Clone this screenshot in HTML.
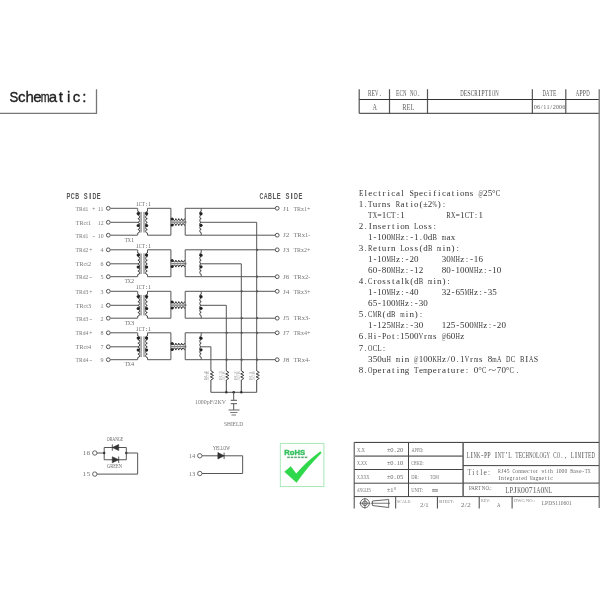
<!DOCTYPE html><html><head><meta charset="utf-8"><style>html,body{margin:0;padding:0;background:#fff;}svg{display:block;will-change:transform;-webkit-font-smoothing:antialiased;}</style></head><body>
<svg width="600" height="600" viewBox="0 0 600 600">
<rect width="600" height="600" fill="#fff"/>
<text x="21.73 29.55 37.37 53.01 60.83 68.65 76.47 84.29" y="101.90" font-family="Liberation Sans" font-size="15" font-weight="normal" fill="#222" text-anchor="middle" stroke="#222" stroke-width="0.35">cheatic:</text>
<text x="9.51" y="101.90" font-family="Liberation Sans" font-size="15" font-weight="normal" fill="#222" textLength="8.80" lengthAdjust="spacingAndGlyphs" stroke="#222" stroke-width="0.35">S</text>
<text x="40.79" y="101.90" font-family="Liberation Sans" font-size="15" font-weight="normal" fill="#222" textLength="8.80" lengthAdjust="spacingAndGlyphs" stroke="#222" stroke-width="0.35">m</text>
<path d="M0,113.3 H96.5 V89.3" stroke="#777" stroke-width="1.3" fill="none"/>
<line x1="359.2" y1="89.2" x2="359.2" y2="113.3" stroke="#555" stroke-width="1.2"/>
<line x1="389.5" y1="89.2" x2="389.5" y2="113.3" stroke="#555" stroke-width="1.2"/>
<line x1="427.5" y1="89.2" x2="427.5" y2="113.3" stroke="#555" stroke-width="1.2"/>
<line x1="532.3" y1="89.2" x2="532.3" y2="113.3" stroke="#333" stroke-width="1"/>
<line x1="565.8" y1="89.2" x2="565.8" y2="113.3" stroke="#555" stroke-width="1.2"/>
<line x1="359.2" y1="99.5" x2="599" y2="99.5" stroke="#333" stroke-width="1"/>
<line x1="359.2" y1="113.3" x2="599" y2="113.3" stroke="#333" stroke-width="1"/>
<line x1="599.3" y1="89.2" x2="599.3" y2="508" stroke="#888" stroke-width="1.6"/>
<text x="380.25" y="95.90" font-family="Liberation Serif" font-size="8.3" font-weight="normal" fill="#555" text-anchor="middle">.</text>
<text x="368.04" y="95.90" font-family="Liberation Serif" font-size="8.3" font-weight="normal" fill="#555" textLength="3.43" lengthAdjust="spacingAndGlyphs">R</text>
<text x="371.54" y="95.90" font-family="Liberation Serif" font-size="8.3" font-weight="normal" fill="#555" textLength="3.43" lengthAdjust="spacingAndGlyphs">E</text>
<text x="375.04" y="95.90" font-family="Liberation Serif" font-size="8.3" font-weight="normal" fill="#555" textLength="3.43" lengthAdjust="spacingAndGlyphs">V</text>
<text x="418.80" y="95.90" font-family="Liberation Serif" font-size="8.3" font-weight="normal" fill="#555" text-anchor="middle">.</text>
<text x="396.09" y="95.90" font-family="Liberation Serif" font-size="8.3" font-weight="normal" fill="#555" textLength="3.43" lengthAdjust="spacingAndGlyphs">E</text>
<text x="399.59" y="95.90" font-family="Liberation Serif" font-size="8.3" font-weight="normal" fill="#555" textLength="3.43" lengthAdjust="spacingAndGlyphs">C</text>
<text x="403.09" y="95.90" font-family="Liberation Serif" font-size="8.3" font-weight="normal" fill="#555" textLength="3.43" lengthAdjust="spacingAndGlyphs">N</text>
<text x="410.09" y="95.90" font-family="Liberation Serif" font-size="8.3" font-weight="normal" fill="#555" textLength="3.43" lengthAdjust="spacingAndGlyphs">N</text>
<text x="413.59" y="95.90" font-family="Liberation Serif" font-size="8.3" font-weight="normal" fill="#555" textLength="3.43" lengthAdjust="spacingAndGlyphs">O</text>
<text x="479.50 490.00" y="95.90" font-family="Liberation Serif" font-size="8.3" font-weight="normal" fill="#555" text-anchor="middle">II</text>
<text x="460.29" y="95.90" font-family="Liberation Serif" font-size="8.3" font-weight="normal" fill="#555" textLength="3.43" lengthAdjust="spacingAndGlyphs">D</text>
<text x="463.79" y="95.90" font-family="Liberation Serif" font-size="8.3" font-weight="normal" fill="#555" textLength="3.43" lengthAdjust="spacingAndGlyphs">E</text>
<text x="467.29" y="95.90" font-family="Liberation Serif" font-size="8.3" font-weight="normal" fill="#555" textLength="3.43" lengthAdjust="spacingAndGlyphs">S</text>
<text x="470.79" y="95.90" font-family="Liberation Serif" font-size="8.3" font-weight="normal" fill="#555" textLength="3.43" lengthAdjust="spacingAndGlyphs">C</text>
<text x="474.29" y="95.90" font-family="Liberation Serif" font-size="8.3" font-weight="normal" fill="#555" textLength="3.43" lengthAdjust="spacingAndGlyphs">R</text>
<text x="481.29" y="95.90" font-family="Liberation Serif" font-size="8.3" font-weight="normal" fill="#555" textLength="3.43" lengthAdjust="spacingAndGlyphs">P</text>
<text x="484.79" y="95.90" font-family="Liberation Serif" font-size="8.3" font-weight="normal" fill="#555" textLength="3.43" lengthAdjust="spacingAndGlyphs">T</text>
<text x="491.79" y="95.90" font-family="Liberation Serif" font-size="8.3" font-weight="normal" fill="#555" textLength="3.43" lengthAdjust="spacingAndGlyphs">O</text>
<text x="495.29" y="95.90" font-family="Liberation Serif" font-size="8.3" font-weight="normal" fill="#555" textLength="3.43" lengthAdjust="spacingAndGlyphs">N</text>
<text x="542.53" y="95.90" font-family="Liberation Serif" font-size="8.3" font-weight="normal" fill="#555" textLength="3.43" lengthAdjust="spacingAndGlyphs">D</text>
<text x="546.03" y="95.90" font-family="Liberation Serif" font-size="8.3" font-weight="normal" fill="#555" textLength="3.43" lengthAdjust="spacingAndGlyphs">A</text>
<text x="549.53" y="95.90" font-family="Liberation Serif" font-size="8.3" font-weight="normal" fill="#555" textLength="3.43" lengthAdjust="spacingAndGlyphs">T</text>
<text x="553.03" y="95.90" font-family="Liberation Serif" font-size="8.3" font-weight="normal" fill="#555" textLength="3.43" lengthAdjust="spacingAndGlyphs">E</text>
<text x="575.83" y="95.90" font-family="Liberation Serif" font-size="8.3" font-weight="normal" fill="#555" textLength="3.43" lengthAdjust="spacingAndGlyphs">A</text>
<text x="579.33" y="95.90" font-family="Liberation Serif" font-size="8.3" font-weight="normal" fill="#555" textLength="3.43" lengthAdjust="spacingAndGlyphs">P</text>
<text x="582.83" y="95.90" font-family="Liberation Serif" font-size="8.3" font-weight="normal" fill="#555" textLength="3.43" lengthAdjust="spacingAndGlyphs">P</text>
<text x="586.33" y="95.90" font-family="Liberation Serif" font-size="8.3" font-weight="normal" fill="#555" textLength="3.43" lengthAdjust="spacingAndGlyphs">D</text>
<text x="372.5" y="109.6" font-family="Liberation Serif" font-size="7.5" fill="#666" font-weight="normal" text-anchor="start" textLength="4.5" lengthAdjust="spacingAndGlyphs" >A</text>
<text x="402.3" y="109.6" font-family="Liberation Serif" font-size="7.5" fill="#666" font-weight="normal" text-anchor="start" textLength="12" lengthAdjust="spacingAndGlyphs" >REL</text>
<text x="541.67 551.12" y="109.20" font-family="Liberation Serif" font-size="7" font-weight="normal" fill="#666" text-anchor="middle">//</text>
<text x="533.83" y="109.20" font-family="Liberation Serif" font-size="7" font-weight="normal" fill="#666" textLength="3.09" lengthAdjust="spacingAndGlyphs">0</text>
<text x="536.98" y="109.20" font-family="Liberation Serif" font-size="7" font-weight="normal" fill="#666" textLength="3.09" lengthAdjust="spacingAndGlyphs">6</text>
<text x="543.28" y="109.20" font-family="Liberation Serif" font-size="7" font-weight="normal" fill="#666" textLength="3.09" lengthAdjust="spacingAndGlyphs">1</text>
<text x="546.43" y="109.20" font-family="Liberation Serif" font-size="7" font-weight="normal" fill="#666" textLength="3.09" lengthAdjust="spacingAndGlyphs">1</text>
<text x="552.73" y="109.20" font-family="Liberation Serif" font-size="7" font-weight="normal" fill="#666" textLength="3.09" lengthAdjust="spacingAndGlyphs">2</text>
<text x="555.88" y="109.20" font-family="Liberation Serif" font-size="7" font-weight="normal" fill="#666" textLength="3.09" lengthAdjust="spacingAndGlyphs">0</text>
<text x="559.03" y="109.20" font-family="Liberation Serif" font-size="7" font-weight="normal" fill="#666" textLength="3.09" lengthAdjust="spacingAndGlyphs">0</text>
<text x="562.18" y="109.20" font-family="Liberation Serif" font-size="7" font-weight="normal" fill="#666" textLength="3.09" lengthAdjust="spacingAndGlyphs">6</text>
<text x="90.11" y="199.20" font-family="Liberation Sans" font-size="8.4" font-weight="bold" fill="#555" text-anchor="middle">I</text>
<text x="66.52" y="199.20" font-family="Liberation Sans" font-size="8.4" font-weight="bold" fill="#555" textLength="3.90" lengthAdjust="spacingAndGlyphs">P</text>
<text x="70.84" y="199.20" font-family="Liberation Sans" font-size="8.4" font-weight="bold" fill="#555" textLength="3.90" lengthAdjust="spacingAndGlyphs">C</text>
<text x="75.17" y="199.20" font-family="Liberation Sans" font-size="8.4" font-weight="bold" fill="#555" textLength="3.90" lengthAdjust="spacingAndGlyphs">B</text>
<text x="83.84" y="199.20" font-family="Liberation Sans" font-size="8.4" font-weight="bold" fill="#555" textLength="3.90" lengthAdjust="spacingAndGlyphs">S</text>
<text x="92.50" y="199.20" font-family="Liberation Sans" font-size="8.4" font-weight="bold" fill="#555" textLength="3.90" lengthAdjust="spacingAndGlyphs">D</text>
<text x="96.83" y="199.20" font-family="Liberation Sans" font-size="8.4" font-weight="bold" fill="#555" textLength="3.90" lengthAdjust="spacingAndGlyphs">E</text>
<text x="291.68" y="199.10" font-family="Liberation Sans" font-size="8.4" font-weight="bold" fill="#555" text-anchor="middle">I</text>
<text x="259.42" y="199.10" font-family="Liberation Sans" font-size="8.4" font-weight="bold" fill="#555" textLength="3.90" lengthAdjust="spacingAndGlyphs">C</text>
<text x="263.75" y="199.10" font-family="Liberation Sans" font-size="8.4" font-weight="bold" fill="#555" textLength="3.90" lengthAdjust="spacingAndGlyphs">A</text>
<text x="268.08" y="199.10" font-family="Liberation Sans" font-size="8.4" font-weight="bold" fill="#555" textLength="3.90" lengthAdjust="spacingAndGlyphs">B</text>
<text x="272.41" y="199.10" font-family="Liberation Sans" font-size="8.4" font-weight="bold" fill="#555" textLength="3.90" lengthAdjust="spacingAndGlyphs">L</text>
<text x="276.74" y="199.10" font-family="Liberation Sans" font-size="8.4" font-weight="bold" fill="#555" textLength="3.90" lengthAdjust="spacingAndGlyphs">E</text>
<text x="285.40" y="199.10" font-family="Liberation Sans" font-size="8.4" font-weight="bold" fill="#555" textLength="3.90" lengthAdjust="spacingAndGlyphs">S</text>
<text x="294.06" y="199.10" font-family="Liberation Sans" font-size="8.4" font-weight="bold" fill="#555" textLength="3.90" lengthAdjust="spacingAndGlyphs">D</text>
<text x="298.38" y="199.10" font-family="Liberation Sans" font-size="8.4" font-weight="bold" fill="#555" textLength="3.90" lengthAdjust="spacingAndGlyphs">E</text>
<text x="75.6" y="210.60000000000002" font-family="Liberation Serif" font-size="6.8" fill="#777" font-weight="normal" text-anchor="start" textLength="12.8" lengthAdjust="spacingAndGlyphs" >TRd1</text>
<text x="92.2" y="210.60000000000002" font-family="Liberation Serif" font-size="6.8" fill="#777" font-weight="normal" text-anchor="start" textLength="3" lengthAdjust="spacingAndGlyphs" >+</text>
<text x="97.8" y="210.60000000000002" font-family="Liberation Serif" font-size="6.8" fill="#777" font-weight="normal" text-anchor="start" textLength="5.8" lengthAdjust="spacingAndGlyphs" >11</text>
<text x="75.6" y="224.60000000000002" font-family="Liberation Serif" font-size="6.8" fill="#777" font-weight="normal" text-anchor="start" textLength="15.5" lengthAdjust="spacingAndGlyphs" >TRct1</text>
<text x="97.8" y="224.60000000000002" font-family="Liberation Serif" font-size="6.8" fill="#777" font-weight="normal" text-anchor="start" textLength="5.8" lengthAdjust="spacingAndGlyphs" >12</text>
<text x="75.6" y="237.50000000000003" font-family="Liberation Serif" font-size="6.8" fill="#777" font-weight="normal" text-anchor="start" textLength="12.8" lengthAdjust="spacingAndGlyphs" >TRd1</text>
<text x="92.2" y="237.50000000000003" font-family="Liberation Serif" font-size="6.8" fill="#777" font-weight="normal" text-anchor="start" textLength="3" lengthAdjust="spacingAndGlyphs" >-</text>
<text x="97.8" y="237.50000000000003" font-family="Liberation Serif" font-size="6.8" fill="#777" font-weight="normal" text-anchor="start" textLength="5.8" lengthAdjust="spacingAndGlyphs" >10</text>
<line x1="110.3" y1="208.3" x2="137.5" y2="208.3" stroke="#555" stroke-width="1"/>
<line x1="110.3" y1="222.3" x2="138.5" y2="222.3" stroke="#555" stroke-width="1"/>
<line x1="110.3" y1="235.20000000000002" x2="137.5" y2="235.20000000000002" stroke="#555" stroke-width="1"/>
<path d="M137.7,208.3 V211.5" stroke="#555" stroke-width="1" fill="none"/>
<path d="M137.7,235.20000000000002 V233.00000000000003" stroke="#555" stroke-width="1" fill="none"/>
<path d="M137.9,211.50 a1.70,1.80 0 0 1 0,3.60 a1.70,1.80 0 0 1 0,3.60 a1.70,1.80 0 0 1 0,3.60" stroke="#444" stroke-width="1.0" fill="none"/>
<path d="M137.9,222.60 a1.70,1.73 0 0 1 0,3.47 a1.70,1.73 0 0 1 0,3.47 a1.70,1.73 0 0 1 0,3.47" stroke="#444" stroke-width="1.0" fill="none"/>
<circle cx="138.2" cy="213.5" r="1.6" fill="#222"/>
<circle cx="138.2" cy="225.5" r="1.6" fill="#222"/>
<rect x="140.1" y="211.9" width="1.9" height="20.600000000000005" fill="#aaa"/>
<rect x="143.2" y="211.9" width="1.7" height="20.600000000000005" fill="#aaa"/>
<path d="M147.5,208.3 V211.5" stroke="#555" stroke-width="1" fill="none"/>
<path d="M147.5,235.20000000000002 V233.00000000000003" stroke="#555" stroke-width="1" fill="none"/>
<path d="M147.3,211.50 a1.70,1.80 0 0 0 0,3.60 a1.70,1.80 0 0 0 0,3.60 a1.70,1.80 0 0 0 0,3.60" stroke="#444" stroke-width="1.0" fill="none"/>
<path d="M147.3,222.60 a1.70,1.73 0 0 0 0,3.47 a1.70,1.73 0 0 0 0,3.47 a1.70,1.73 0 0 0 0,3.47" stroke="#444" stroke-width="1.0" fill="none"/>
<circle cx="146.6" cy="213.5" r="1.6" fill="#222"/>
<circle cx="146.6" cy="225.5" r="1.6" fill="#222"/>
<text x="146.45" y="206.10" font-family="Liberation Serif" font-size="7" font-weight="normal" fill="#666" text-anchor="middle">:</text>
<text x="135.65" y="206.10" font-family="Liberation Serif" font-size="7" font-weight="normal" fill="#666" textLength="3.00" lengthAdjust="spacingAndGlyphs">1</text>
<text x="138.75" y="206.10" font-family="Liberation Serif" font-size="7" font-weight="normal" fill="#666" textLength="3.00" lengthAdjust="spacingAndGlyphs">C</text>
<text x="141.85" y="206.10" font-family="Liberation Serif" font-size="7" font-weight="normal" fill="#666" textLength="3.00" lengthAdjust="spacingAndGlyphs">T</text>
<text x="148.05" y="206.10" font-family="Liberation Serif" font-size="7" font-weight="normal" fill="#666" textLength="3.00" lengthAdjust="spacingAndGlyphs">1</text>
<text x="124.65" y="241.90" font-family="Liberation Serif" font-size="7" font-weight="normal" fill="#666" textLength="3.10" lengthAdjust="spacingAndGlyphs">T</text>
<text x="127.85" y="241.90" font-family="Liberation Serif" font-size="7" font-weight="normal" fill="#666" textLength="3.10" lengthAdjust="spacingAndGlyphs">X</text>
<text x="131.05" y="241.90" font-family="Liberation Serif" font-size="7" font-weight="normal" fill="#666" textLength="3.10" lengthAdjust="spacingAndGlyphs">1</text>
<line x1="147.5" y1="208.3" x2="170.9" y2="208.3" stroke="#555" stroke-width="1"/>
<line x1="147.5" y1="235.20000000000002" x2="170.9" y2="235.20000000000002" stroke="#555" stroke-width="1"/>
<line x1="170.9" y1="208.3" x2="170.9" y2="235.20000000000002" stroke="#555" stroke-width="1"/>
<line x1="171" y1="222.10000000000002" x2="186.5" y2="222.10000000000002" stroke="#888" stroke-width="1.5"/>
<path d="M173,218.60 a1.44,1.80 0 0 0 2.88,0 a1.44,1.80 0 0 0 2.88,0 a1.44,1.80 0 0 0 2.88,0 a1.44,1.80 0 0 0 2.88,0" stroke="#333" stroke-width="1.0" fill="none"/>
<path d="M173,225.60 a1.44,1.90 0 0 1 2.88,0 a1.44,1.90 0 0 1 2.88,0 a1.44,1.90 0 0 1 2.88,0 a1.44,1.90 0 0 1 2.88,0" stroke="#333" stroke-width="1.0" fill="none"/>
<circle cx="172.1" cy="218.9" r="1.5" fill="#222"/>
<circle cx="172.1" cy="224.9" r="1.5" fill="#222"/>
<line x1="185.2" y1="208.3" x2="185.2" y2="235.20000000000002" stroke="#555" stroke-width="1"/>
<line x1="185.2" y1="208.3" x2="275.2" y2="208.3" stroke="#555" stroke-width="1"/>
<line x1="185.2" y1="235.20000000000002" x2="275.2" y2="235.20000000000002" stroke="#555" stroke-width="1"/>
<path d="M201.2,208.3 V211.3" stroke="#555" stroke-width="1" fill="none"/>
<path d="M201.2,235.20000000000002 V232.70000000000002" stroke="#555" stroke-width="1" fill="none"/>
<path d="M201.2,211.30 a1.40,1.83 0 0 0 0,3.67 a1.40,1.83 0 0 0 0,3.67 a1.40,1.83 0 0 0 0,3.67" stroke="#444" stroke-width="1.0" fill="none"/>
<path d="M201.2,222.30 a1.40,1.73 0 0 0 0,3.47 a1.40,1.73 0 0 0 0,3.47 a1.40,1.73 0 0 0 0,3.47" stroke="#444" stroke-width="1.0" fill="none"/>
<circle cx="201.0" cy="213.70000000000002" r="1.6" fill="#222"/>
<circle cx="201.0" cy="225.3" r="1.6" fill="#222"/>
<path d="M201.2,222.3 H256.7 V371" stroke="#555" stroke-width="1" fill="none"/>
<circle cx="277.2" cy="208.3" r="1.9" stroke="#555" stroke-width="1.0" fill="#fff"/>
<text x="282.9" y="210.5" font-family="Liberation Serif" font-size="6" fill="#777" font-weight="normal" text-anchor="start" textLength="6.4" lengthAdjust="spacingAndGlyphs" >J1</text>
<text x="293.4" y="210.5" font-family="Liberation Serif" font-size="6" fill="#777" font-weight="normal" text-anchor="start" textLength="17" lengthAdjust="spacingAndGlyphs" >TRx1+</text>
<circle cx="277.2" cy="235.20000000000002" r="1.9" stroke="#555" stroke-width="1.0" fill="#fff"/>
<text x="282.9" y="237.4" font-family="Liberation Serif" font-size="6" fill="#777" font-weight="normal" text-anchor="start" textLength="6.4" lengthAdjust="spacingAndGlyphs" >J2</text>
<text x="293.4" y="237.4" font-family="Liberation Serif" font-size="6" fill="#777" font-weight="normal" text-anchor="start" textLength="17" lengthAdjust="spacingAndGlyphs" >TRx1-</text>
<circle cx="108.3" cy="208.3" r="1.9" stroke="#555" stroke-width="1.0" fill="#fff"/>
<circle cx="108.3" cy="222.3" r="1.9" stroke="#555" stroke-width="1.0" fill="#fff"/>
<circle cx="108.3" cy="235.20000000000002" r="1.9" stroke="#555" stroke-width="1.0" fill="#fff"/>
<text x="75.6" y="252.10000000000002" font-family="Liberation Serif" font-size="6.8" fill="#777" font-weight="normal" text-anchor="start" textLength="12.8" lengthAdjust="spacingAndGlyphs" >TRd2</text>
<text x="89.2" y="252.10000000000002" font-family="Liberation Serif" font-size="6.8" fill="#777" font-weight="normal" text-anchor="start" textLength="3" lengthAdjust="spacingAndGlyphs" >+</text>
<text x="100.6" y="252.10000000000002" font-family="Liberation Serif" font-size="6.8" fill="#777" font-weight="normal" text-anchor="start" textLength="3.0" lengthAdjust="spacingAndGlyphs" >4</text>
<text x="75.6" y="266.1" font-family="Liberation Serif" font-size="6.8" fill="#777" font-weight="normal" text-anchor="start" textLength="15.5" lengthAdjust="spacingAndGlyphs" >TRct2</text>
<text x="100.6" y="266.1" font-family="Liberation Serif" font-size="6.8" fill="#777" font-weight="normal" text-anchor="start" textLength="3.0" lengthAdjust="spacingAndGlyphs" >6</text>
<text x="75.6" y="279.0" font-family="Liberation Serif" font-size="6.8" fill="#777" font-weight="normal" text-anchor="start" textLength="12.8" lengthAdjust="spacingAndGlyphs" >TRd2</text>
<text x="89.2" y="279.0" font-family="Liberation Serif" font-size="6.8" fill="#777" font-weight="normal" text-anchor="start" textLength="3" lengthAdjust="spacingAndGlyphs" >-</text>
<text x="100.6" y="279.0" font-family="Liberation Serif" font-size="6.8" fill="#777" font-weight="normal" text-anchor="start" textLength="3.0" lengthAdjust="spacingAndGlyphs" >5</text>
<line x1="110.3" y1="249.8" x2="137.5" y2="249.8" stroke="#555" stroke-width="1"/>
<line x1="110.3" y1="263.8" x2="138.5" y2="263.8" stroke="#555" stroke-width="1"/>
<line x1="110.3" y1="276.7" x2="137.5" y2="276.7" stroke="#555" stroke-width="1"/>
<path d="M137.7,249.8 V253.0" stroke="#555" stroke-width="1" fill="none"/>
<path d="M137.7,276.7 V274.5" stroke="#555" stroke-width="1" fill="none"/>
<path d="M137.9,253.00 a1.70,1.80 0 0 1 0,3.60 a1.70,1.80 0 0 1 0,3.60 a1.70,1.80 0 0 1 0,3.60" stroke="#444" stroke-width="1.0" fill="none"/>
<path d="M137.9,264.10 a1.70,1.73 0 0 1 0,3.47 a1.70,1.73 0 0 1 0,3.47 a1.70,1.73 0 0 1 0,3.47" stroke="#444" stroke-width="1.0" fill="none"/>
<circle cx="138.2" cy="255.0" r="1.6" fill="#222"/>
<circle cx="138.2" cy="267.0" r="1.6" fill="#222"/>
<rect x="140.1" y="253.4" width="1.9" height="20.599999999999977" fill="#aaa"/>
<rect x="143.2" y="253.4" width="1.7" height="20.599999999999977" fill="#aaa"/>
<path d="M147.5,249.8 V253.0" stroke="#555" stroke-width="1" fill="none"/>
<path d="M147.5,276.7 V274.5" stroke="#555" stroke-width="1" fill="none"/>
<path d="M147.3,253.00 a1.70,1.80 0 0 0 0,3.60 a1.70,1.80 0 0 0 0,3.60 a1.70,1.80 0 0 0 0,3.60" stroke="#444" stroke-width="1.0" fill="none"/>
<path d="M147.3,264.10 a1.70,1.73 0 0 0 0,3.47 a1.70,1.73 0 0 0 0,3.47 a1.70,1.73 0 0 0 0,3.47" stroke="#444" stroke-width="1.0" fill="none"/>
<circle cx="146.6" cy="255.0" r="1.6" fill="#222"/>
<circle cx="146.6" cy="267.0" r="1.6" fill="#222"/>
<text x="146.45" y="247.60" font-family="Liberation Serif" font-size="7" font-weight="normal" fill="#666" text-anchor="middle">:</text>
<text x="135.65" y="247.60" font-family="Liberation Serif" font-size="7" font-weight="normal" fill="#666" textLength="3.00" lengthAdjust="spacingAndGlyphs">1</text>
<text x="138.75" y="247.60" font-family="Liberation Serif" font-size="7" font-weight="normal" fill="#666" textLength="3.00" lengthAdjust="spacingAndGlyphs">C</text>
<text x="141.85" y="247.60" font-family="Liberation Serif" font-size="7" font-weight="normal" fill="#666" textLength="3.00" lengthAdjust="spacingAndGlyphs">T</text>
<text x="148.05" y="247.60" font-family="Liberation Serif" font-size="7" font-weight="normal" fill="#666" textLength="3.00" lengthAdjust="spacingAndGlyphs">1</text>
<text x="124.65" y="283.40" font-family="Liberation Serif" font-size="7" font-weight="normal" fill="#666" textLength="3.10" lengthAdjust="spacingAndGlyphs">T</text>
<text x="127.85" y="283.40" font-family="Liberation Serif" font-size="7" font-weight="normal" fill="#666" textLength="3.10" lengthAdjust="spacingAndGlyphs">X</text>
<text x="131.05" y="283.40" font-family="Liberation Serif" font-size="7" font-weight="normal" fill="#666" textLength="3.10" lengthAdjust="spacingAndGlyphs">2</text>
<line x1="147.5" y1="249.8" x2="170.9" y2="249.8" stroke="#555" stroke-width="1"/>
<line x1="147.5" y1="276.7" x2="170.9" y2="276.7" stroke="#555" stroke-width="1"/>
<line x1="170.9" y1="249.8" x2="170.9" y2="276.7" stroke="#555" stroke-width="1"/>
<line x1="171" y1="263.6" x2="186.5" y2="263.6" stroke="#888" stroke-width="1.5"/>
<path d="M173,260.10 a1.44,1.80 0 0 0 2.88,0 a1.44,1.80 0 0 0 2.88,0 a1.44,1.80 0 0 0 2.88,0 a1.44,1.80 0 0 0 2.88,0" stroke="#333" stroke-width="1.0" fill="none"/>
<path d="M173,267.10 a1.44,1.90 0 0 1 2.88,0 a1.44,1.90 0 0 1 2.88,0 a1.44,1.90 0 0 1 2.88,0 a1.44,1.90 0 0 1 2.88,0" stroke="#333" stroke-width="1.0" fill="none"/>
<circle cx="172.1" cy="260.40000000000003" r="1.5" fill="#222"/>
<circle cx="172.1" cy="266.40000000000003" r="1.5" fill="#222"/>
<line x1="185.2" y1="249.8" x2="185.2" y2="276.7" stroke="#555" stroke-width="1"/>
<line x1="185.2" y1="249.8" x2="275.2" y2="249.8" stroke="#555" stroke-width="1"/>
<line x1="185.2" y1="276.7" x2="275.2" y2="276.7" stroke="#555" stroke-width="1"/>
<path d="M201.2,249.8 V252.8" stroke="#555" stroke-width="1" fill="none"/>
<path d="M201.2,276.7 V274.2" stroke="#555" stroke-width="1" fill="none"/>
<path d="M201.2,252.80 a1.40,1.83 0 0 0 0,3.67 a1.40,1.83 0 0 0 0,3.67 a1.40,1.83 0 0 0 0,3.67" stroke="#444" stroke-width="1.0" fill="none"/>
<path d="M201.2,263.80 a1.40,1.73 0 0 0 0,3.47 a1.40,1.73 0 0 0 0,3.47 a1.40,1.73 0 0 0 0,3.47" stroke="#444" stroke-width="1.0" fill="none"/>
<circle cx="201.0" cy="255.20000000000002" r="1.6" fill="#222"/>
<circle cx="201.0" cy="266.8" r="1.6" fill="#222"/>
<path d="M201.2,263.8 H241.3 V371" stroke="#555" stroke-width="1" fill="none"/>
<circle cx="277.2" cy="249.8" r="1.9" stroke="#555" stroke-width="1.0" fill="#fff"/>
<text x="282.9" y="252.0" font-family="Liberation Serif" font-size="6" fill="#777" font-weight="normal" text-anchor="start" textLength="6.4" lengthAdjust="spacingAndGlyphs" >J3</text>
<text x="293.4" y="252.0" font-family="Liberation Serif" font-size="6" fill="#777" font-weight="normal" text-anchor="start" textLength="17" lengthAdjust="spacingAndGlyphs" >TRx2+</text>
<circle cx="277.2" cy="276.7" r="1.9" stroke="#555" stroke-width="1.0" fill="#fff"/>
<text x="282.9" y="278.9" font-family="Liberation Serif" font-size="6" fill="#777" font-weight="normal" text-anchor="start" textLength="6.4" lengthAdjust="spacingAndGlyphs" >J6</text>
<text x="293.4" y="278.9" font-family="Liberation Serif" font-size="6" fill="#777" font-weight="normal" text-anchor="start" textLength="17" lengthAdjust="spacingAndGlyphs" >TRx2-</text>
<circle cx="108.3" cy="249.8" r="1.9" stroke="#555" stroke-width="1.0" fill="#fff"/>
<circle cx="108.3" cy="263.8" r="1.9" stroke="#555" stroke-width="1.0" fill="#fff"/>
<circle cx="108.3" cy="276.7" r="1.9" stroke="#555" stroke-width="1.0" fill="#fff"/>
<text x="75.6" y="293.6" font-family="Liberation Serif" font-size="6.8" fill="#777" font-weight="normal" text-anchor="start" textLength="12.8" lengthAdjust="spacingAndGlyphs" >TRd3</text>
<text x="89.2" y="293.6" font-family="Liberation Serif" font-size="6.8" fill="#777" font-weight="normal" text-anchor="start" textLength="3" lengthAdjust="spacingAndGlyphs" >+</text>
<text x="100.6" y="293.6" font-family="Liberation Serif" font-size="6.8" fill="#777" font-weight="normal" text-anchor="start" textLength="3.0" lengthAdjust="spacingAndGlyphs" >3</text>
<text x="75.6" y="307.6" font-family="Liberation Serif" font-size="6.8" fill="#777" font-weight="normal" text-anchor="start" textLength="15.5" lengthAdjust="spacingAndGlyphs" >TRct3</text>
<text x="100.6" y="307.6" font-family="Liberation Serif" font-size="6.8" fill="#777" font-weight="normal" text-anchor="start" textLength="3.0" lengthAdjust="spacingAndGlyphs" >1</text>
<text x="75.6" y="320.5" font-family="Liberation Serif" font-size="6.8" fill="#777" font-weight="normal" text-anchor="start" textLength="12.8" lengthAdjust="spacingAndGlyphs" >TRd3</text>
<text x="89.2" y="320.5" font-family="Liberation Serif" font-size="6.8" fill="#777" font-weight="normal" text-anchor="start" textLength="3" lengthAdjust="spacingAndGlyphs" >-</text>
<text x="100.6" y="320.5" font-family="Liberation Serif" font-size="6.8" fill="#777" font-weight="normal" text-anchor="start" textLength="3.0" lengthAdjust="spacingAndGlyphs" >2</text>
<line x1="110.3" y1="291.3" x2="137.5" y2="291.3" stroke="#555" stroke-width="1"/>
<line x1="110.3" y1="305.3" x2="138.5" y2="305.3" stroke="#555" stroke-width="1"/>
<line x1="110.3" y1="318.2" x2="137.5" y2="318.2" stroke="#555" stroke-width="1"/>
<path d="M137.7,291.3 V294.5" stroke="#555" stroke-width="1" fill="none"/>
<path d="M137.7,318.2 V316.0" stroke="#555" stroke-width="1" fill="none"/>
<path d="M137.9,294.50 a1.70,1.80 0 0 1 0,3.60 a1.70,1.80 0 0 1 0,3.60 a1.70,1.80 0 0 1 0,3.60" stroke="#444" stroke-width="1.0" fill="none"/>
<path d="M137.9,305.60 a1.70,1.73 0 0 1 0,3.47 a1.70,1.73 0 0 1 0,3.47 a1.70,1.73 0 0 1 0,3.47" stroke="#444" stroke-width="1.0" fill="none"/>
<circle cx="138.2" cy="296.5" r="1.6" fill="#222"/>
<circle cx="138.2" cy="308.5" r="1.6" fill="#222"/>
<rect x="140.1" y="294.90000000000003" width="1.9" height="20.599999999999977" fill="#aaa"/>
<rect x="143.2" y="294.90000000000003" width="1.7" height="20.599999999999977" fill="#aaa"/>
<path d="M147.5,291.3 V294.5" stroke="#555" stroke-width="1" fill="none"/>
<path d="M147.5,318.2 V316.0" stroke="#555" stroke-width="1" fill="none"/>
<path d="M147.3,294.50 a1.70,1.80 0 0 0 0,3.60 a1.70,1.80 0 0 0 0,3.60 a1.70,1.80 0 0 0 0,3.60" stroke="#444" stroke-width="1.0" fill="none"/>
<path d="M147.3,305.60 a1.70,1.73 0 0 0 0,3.47 a1.70,1.73 0 0 0 0,3.47 a1.70,1.73 0 0 0 0,3.47" stroke="#444" stroke-width="1.0" fill="none"/>
<circle cx="146.6" cy="296.5" r="1.6" fill="#222"/>
<circle cx="146.6" cy="308.5" r="1.6" fill="#222"/>
<text x="146.45" y="289.10" font-family="Liberation Serif" font-size="7" font-weight="normal" fill="#666" text-anchor="middle">:</text>
<text x="135.65" y="289.10" font-family="Liberation Serif" font-size="7" font-weight="normal" fill="#666" textLength="3.00" lengthAdjust="spacingAndGlyphs">1</text>
<text x="138.75" y="289.10" font-family="Liberation Serif" font-size="7" font-weight="normal" fill="#666" textLength="3.00" lengthAdjust="spacingAndGlyphs">C</text>
<text x="141.85" y="289.10" font-family="Liberation Serif" font-size="7" font-weight="normal" fill="#666" textLength="3.00" lengthAdjust="spacingAndGlyphs">T</text>
<text x="148.05" y="289.10" font-family="Liberation Serif" font-size="7" font-weight="normal" fill="#666" textLength="3.00" lengthAdjust="spacingAndGlyphs">1</text>
<text x="124.65" y="324.90" font-family="Liberation Serif" font-size="7" font-weight="normal" fill="#666" textLength="3.10" lengthAdjust="spacingAndGlyphs">T</text>
<text x="127.85" y="324.90" font-family="Liberation Serif" font-size="7" font-weight="normal" fill="#666" textLength="3.10" lengthAdjust="spacingAndGlyphs">X</text>
<text x="131.05" y="324.90" font-family="Liberation Serif" font-size="7" font-weight="normal" fill="#666" textLength="3.10" lengthAdjust="spacingAndGlyphs">3</text>
<line x1="147.5" y1="291.3" x2="170.9" y2="291.3" stroke="#555" stroke-width="1"/>
<line x1="147.5" y1="318.2" x2="170.9" y2="318.2" stroke="#555" stroke-width="1"/>
<line x1="170.9" y1="291.3" x2="170.9" y2="318.2" stroke="#555" stroke-width="1"/>
<line x1="171" y1="305.1" x2="186.5" y2="305.1" stroke="#888" stroke-width="1.5"/>
<path d="M173,301.60 a1.44,1.80 0 0 0 2.88,0 a1.44,1.80 0 0 0 2.88,0 a1.44,1.80 0 0 0 2.88,0 a1.44,1.80 0 0 0 2.88,0" stroke="#333" stroke-width="1.0" fill="none"/>
<path d="M173,308.60 a1.44,1.90 0 0 1 2.88,0 a1.44,1.90 0 0 1 2.88,0 a1.44,1.90 0 0 1 2.88,0 a1.44,1.90 0 0 1 2.88,0" stroke="#333" stroke-width="1.0" fill="none"/>
<circle cx="172.1" cy="301.90000000000003" r="1.5" fill="#222"/>
<circle cx="172.1" cy="307.90000000000003" r="1.5" fill="#222"/>
<line x1="185.2" y1="291.3" x2="185.2" y2="318.2" stroke="#555" stroke-width="1"/>
<line x1="185.2" y1="291.3" x2="275.2" y2="291.3" stroke="#555" stroke-width="1"/>
<line x1="185.2" y1="318.2" x2="275.2" y2="318.2" stroke="#555" stroke-width="1"/>
<path d="M201.2,291.3 V294.3" stroke="#555" stroke-width="1" fill="none"/>
<path d="M201.2,318.2 V315.7" stroke="#555" stroke-width="1" fill="none"/>
<path d="M201.2,294.30 a1.40,1.83 0 0 0 0,3.67 a1.40,1.83 0 0 0 0,3.67 a1.40,1.83 0 0 0 0,3.67" stroke="#444" stroke-width="1.0" fill="none"/>
<path d="M201.2,305.30 a1.40,1.73 0 0 0 0,3.47 a1.40,1.73 0 0 0 0,3.47 a1.40,1.73 0 0 0 0,3.47" stroke="#444" stroke-width="1.0" fill="none"/>
<circle cx="201.0" cy="296.7" r="1.6" fill="#222"/>
<circle cx="201.0" cy="308.3" r="1.6" fill="#222"/>
<path d="M201.2,305.3 H226.3 V371" stroke="#555" stroke-width="1" fill="none"/>
<circle cx="277.2" cy="291.3" r="1.9" stroke="#555" stroke-width="1.0" fill="#fff"/>
<text x="282.9" y="293.5" font-family="Liberation Serif" font-size="6" fill="#777" font-weight="normal" text-anchor="start" textLength="6.4" lengthAdjust="spacingAndGlyphs" >J4</text>
<text x="293.4" y="293.5" font-family="Liberation Serif" font-size="6" fill="#777" font-weight="normal" text-anchor="start" textLength="17" lengthAdjust="spacingAndGlyphs" >TRx3+</text>
<circle cx="277.2" cy="318.2" r="1.9" stroke="#555" stroke-width="1.0" fill="#fff"/>
<text x="282.9" y="320.4" font-family="Liberation Serif" font-size="6" fill="#777" font-weight="normal" text-anchor="start" textLength="6.4" lengthAdjust="spacingAndGlyphs" >J5</text>
<text x="293.4" y="320.4" font-family="Liberation Serif" font-size="6" fill="#777" font-weight="normal" text-anchor="start" textLength="17" lengthAdjust="spacingAndGlyphs" >TRx3-</text>
<circle cx="108.3" cy="291.3" r="1.9" stroke="#555" stroke-width="1.0" fill="#fff"/>
<circle cx="108.3" cy="305.3" r="1.9" stroke="#555" stroke-width="1.0" fill="#fff"/>
<circle cx="108.3" cy="318.2" r="1.9" stroke="#555" stroke-width="1.0" fill="#fff"/>
<text x="75.6" y="335.1" font-family="Liberation Serif" font-size="6.8" fill="#777" font-weight="normal" text-anchor="start" textLength="12.8" lengthAdjust="spacingAndGlyphs" >TRd4</text>
<text x="89.2" y="335.1" font-family="Liberation Serif" font-size="6.8" fill="#777" font-weight="normal" text-anchor="start" textLength="3" lengthAdjust="spacingAndGlyphs" >+</text>
<text x="100.6" y="335.1" font-family="Liberation Serif" font-size="6.8" fill="#777" font-weight="normal" text-anchor="start" textLength="3.0" lengthAdjust="spacingAndGlyphs" >8</text>
<text x="75.6" y="349.1" font-family="Liberation Serif" font-size="6.8" fill="#777" font-weight="normal" text-anchor="start" textLength="15.5" lengthAdjust="spacingAndGlyphs" >TRct4</text>
<text x="100.6" y="349.1" font-family="Liberation Serif" font-size="6.8" fill="#777" font-weight="normal" text-anchor="start" textLength="3.0" lengthAdjust="spacingAndGlyphs" >7</text>
<text x="75.6" y="362.0" font-family="Liberation Serif" font-size="6.8" fill="#777" font-weight="normal" text-anchor="start" textLength="12.8" lengthAdjust="spacingAndGlyphs" >TRd4</text>
<text x="89.2" y="362.0" font-family="Liberation Serif" font-size="6.8" fill="#777" font-weight="normal" text-anchor="start" textLength="3" lengthAdjust="spacingAndGlyphs" >-</text>
<text x="100.6" y="362.0" font-family="Liberation Serif" font-size="6.8" fill="#777" font-weight="normal" text-anchor="start" textLength="3.0" lengthAdjust="spacingAndGlyphs" >9</text>
<line x1="110.3" y1="332.8" x2="137.5" y2="332.8" stroke="#555" stroke-width="1"/>
<line x1="110.3" y1="346.8" x2="138.5" y2="346.8" stroke="#555" stroke-width="1"/>
<line x1="110.3" y1="359.7" x2="137.5" y2="359.7" stroke="#555" stroke-width="1"/>
<path d="M137.7,332.8 V336.0" stroke="#555" stroke-width="1" fill="none"/>
<path d="M137.7,359.7 V357.5" stroke="#555" stroke-width="1" fill="none"/>
<path d="M137.9,336.00 a1.70,1.80 0 0 1 0,3.60 a1.70,1.80 0 0 1 0,3.60 a1.70,1.80 0 0 1 0,3.60" stroke="#444" stroke-width="1.0" fill="none"/>
<path d="M137.9,347.10 a1.70,1.73 0 0 1 0,3.47 a1.70,1.73 0 0 1 0,3.47 a1.70,1.73 0 0 1 0,3.47" stroke="#444" stroke-width="1.0" fill="none"/>
<circle cx="138.2" cy="338.0" r="1.6" fill="#222"/>
<circle cx="138.2" cy="350.0" r="1.6" fill="#222"/>
<rect x="140.1" y="336.40000000000003" width="1.9" height="20.599999999999977" fill="#aaa"/>
<rect x="143.2" y="336.40000000000003" width="1.7" height="20.599999999999977" fill="#aaa"/>
<path d="M147.5,332.8 V336.0" stroke="#555" stroke-width="1" fill="none"/>
<path d="M147.5,359.7 V357.5" stroke="#555" stroke-width="1" fill="none"/>
<path d="M147.3,336.00 a1.70,1.80 0 0 0 0,3.60 a1.70,1.80 0 0 0 0,3.60 a1.70,1.80 0 0 0 0,3.60" stroke="#444" stroke-width="1.0" fill="none"/>
<path d="M147.3,347.10 a1.70,1.73 0 0 0 0,3.47 a1.70,1.73 0 0 0 0,3.47 a1.70,1.73 0 0 0 0,3.47" stroke="#444" stroke-width="1.0" fill="none"/>
<circle cx="146.6" cy="338.0" r="1.6" fill="#222"/>
<circle cx="146.6" cy="350.0" r="1.6" fill="#222"/>
<text x="146.45" y="330.60" font-family="Liberation Serif" font-size="7" font-weight="normal" fill="#666" text-anchor="middle">:</text>
<text x="135.65" y="330.60" font-family="Liberation Serif" font-size="7" font-weight="normal" fill="#666" textLength="3.00" lengthAdjust="spacingAndGlyphs">1</text>
<text x="138.75" y="330.60" font-family="Liberation Serif" font-size="7" font-weight="normal" fill="#666" textLength="3.00" lengthAdjust="spacingAndGlyphs">C</text>
<text x="141.85" y="330.60" font-family="Liberation Serif" font-size="7" font-weight="normal" fill="#666" textLength="3.00" lengthAdjust="spacingAndGlyphs">T</text>
<text x="148.05" y="330.60" font-family="Liberation Serif" font-size="7" font-weight="normal" fill="#666" textLength="3.00" lengthAdjust="spacingAndGlyphs">1</text>
<text x="124.65" y="366.40" font-family="Liberation Serif" font-size="7" font-weight="normal" fill="#666" textLength="3.10" lengthAdjust="spacingAndGlyphs">T</text>
<text x="127.85" y="366.40" font-family="Liberation Serif" font-size="7" font-weight="normal" fill="#666" textLength="3.10" lengthAdjust="spacingAndGlyphs">X</text>
<text x="131.05" y="366.40" font-family="Liberation Serif" font-size="7" font-weight="normal" fill="#666" textLength="3.10" lengthAdjust="spacingAndGlyphs">4</text>
<line x1="147.5" y1="332.8" x2="170.9" y2="332.8" stroke="#555" stroke-width="1"/>
<line x1="147.5" y1="359.7" x2="170.9" y2="359.7" stroke="#555" stroke-width="1"/>
<line x1="170.9" y1="332.8" x2="170.9" y2="359.7" stroke="#555" stroke-width="1"/>
<line x1="171" y1="346.6" x2="186.5" y2="346.6" stroke="#888" stroke-width="1.5"/>
<path d="M173,343.10 a1.44,1.80 0 0 0 2.88,0 a1.44,1.80 0 0 0 2.88,0 a1.44,1.80 0 0 0 2.88,0 a1.44,1.80 0 0 0 2.88,0" stroke="#333" stroke-width="1.0" fill="none"/>
<path d="M173,350.10 a1.44,1.90 0 0 1 2.88,0 a1.44,1.90 0 0 1 2.88,0 a1.44,1.90 0 0 1 2.88,0 a1.44,1.90 0 0 1 2.88,0" stroke="#333" stroke-width="1.0" fill="none"/>
<circle cx="172.1" cy="343.40000000000003" r="1.5" fill="#222"/>
<circle cx="172.1" cy="349.40000000000003" r="1.5" fill="#222"/>
<line x1="185.2" y1="332.8" x2="185.2" y2="359.7" stroke="#555" stroke-width="1"/>
<line x1="185.2" y1="332.8" x2="275.2" y2="332.8" stroke="#555" stroke-width="1"/>
<line x1="185.2" y1="359.7" x2="275.2" y2="359.7" stroke="#555" stroke-width="1"/>
<path d="M201.2,332.8 V335.8" stroke="#555" stroke-width="1" fill="none"/>
<path d="M201.2,359.7 V357.2" stroke="#555" stroke-width="1" fill="none"/>
<path d="M201.2,335.80 a1.40,1.83 0 0 0 0,3.67 a1.40,1.83 0 0 0 0,3.67 a1.40,1.83 0 0 0 0,3.67" stroke="#444" stroke-width="1.0" fill="none"/>
<path d="M201.2,346.80 a1.40,1.73 0 0 0 0,3.47 a1.40,1.73 0 0 0 0,3.47 a1.40,1.73 0 0 0 0,3.47" stroke="#444" stroke-width="1.0" fill="none"/>
<circle cx="201.0" cy="338.2" r="1.6" fill="#222"/>
<circle cx="201.0" cy="349.8" r="1.6" fill="#222"/>
<path d="M201.2,346.8 H210.9 V371" stroke="#555" stroke-width="1" fill="none"/>
<circle cx="277.2" cy="332.8" r="1.9" stroke="#555" stroke-width="1.0" fill="#fff"/>
<text x="282.9" y="335.0" font-family="Liberation Serif" font-size="6" fill="#777" font-weight="normal" text-anchor="start" textLength="6.4" lengthAdjust="spacingAndGlyphs" >J7</text>
<text x="293.4" y="335.0" font-family="Liberation Serif" font-size="6" fill="#777" font-weight="normal" text-anchor="start" textLength="17" lengthAdjust="spacingAndGlyphs" >TRx4+</text>
<circle cx="277.2" cy="359.7" r="1.9" stroke="#555" stroke-width="1.0" fill="#fff"/>
<text x="282.9" y="361.9" font-family="Liberation Serif" font-size="6" fill="#777" font-weight="normal" text-anchor="start" textLength="6.4" lengthAdjust="spacingAndGlyphs" >J8</text>
<text x="293.4" y="361.9" font-family="Liberation Serif" font-size="6" fill="#777" font-weight="normal" text-anchor="start" textLength="17" lengthAdjust="spacingAndGlyphs" >TRx4-</text>
<circle cx="108.3" cy="332.8" r="1.9" stroke="#555" stroke-width="1.0" fill="#fff"/>
<circle cx="108.3" cy="346.8" r="1.9" stroke="#555" stroke-width="1.0" fill="#fff"/>
<circle cx="108.3" cy="359.7" r="1.9" stroke="#555" stroke-width="1.0" fill="#fff"/>
<circle cx="257.09999999999997" cy="249.8" r="1.15" fill="#555"/>
<circle cx="257.09999999999997" cy="276.7" r="1.15" fill="#555"/>
<circle cx="257.09999999999997" cy="291.3" r="1.15" fill="#555"/>
<circle cx="257.09999999999997" cy="318.2" r="1.15" fill="#555"/>
<circle cx="257.09999999999997" cy="332.8" r="1.15" fill="#555"/>
<circle cx="257.09999999999997" cy="359.7" r="1.15" fill="#555"/>
<circle cx="241.70000000000002" cy="291.3" r="1.15" fill="#555"/>
<circle cx="241.70000000000002" cy="318.2" r="1.15" fill="#555"/>
<circle cx="241.70000000000002" cy="332.8" r="1.15" fill="#555"/>
<circle cx="241.70000000000002" cy="359.7" r="1.15" fill="#555"/>
<circle cx="226.70000000000002" cy="332.8" r="1.15" fill="#555"/>
<circle cx="226.70000000000002" cy="359.7" r="1.15" fill="#555"/>
<path d="M256.7,370.8 L259.3,372.4 L256.09999999999997,373.9 L259.3,375.4 L256.09999999999997,376.9 L259.3,378.4 L256.7,380 V392.3" stroke="#444" stroke-width="1.0" fill="none"/>
<text transform="translate(252.39999999999998,380.5) rotate(-90)" font-family="Liberation Serif" font-size="3.6" fill="#aaa" textLength="9.5" lengthAdjust="spacingAndGlyphs">R1</text>
<text transform="translate(255.2,380.5) rotate(-90)" font-family="Liberation Serif" font-size="3.6" fill="#aaa" textLength="9.5" lengthAdjust="spacingAndGlyphs">50R</text>
<path d="M241.3,370.8 L243.9,372.4 L240.70000000000002,373.9 L243.9,375.4 L240.70000000000002,376.9 L243.9,378.4 L241.3,380 V392.3" stroke="#444" stroke-width="1.0" fill="none"/>
<text transform="translate(237.0,380.5) rotate(-90)" font-family="Liberation Serif" font-size="3.6" fill="#aaa" textLength="9.5" lengthAdjust="spacingAndGlyphs">R2</text>
<text transform="translate(239.8,380.5) rotate(-90)" font-family="Liberation Serif" font-size="3.6" fill="#aaa" textLength="9.5" lengthAdjust="spacingAndGlyphs">50R</text>
<path d="M226.3,370.8 L228.9,372.4 L225.70000000000002,373.9 L228.9,375.4 L225.70000000000002,376.9 L228.9,378.4 L226.3,380 V392.3" stroke="#444" stroke-width="1.0" fill="none"/>
<text transform="translate(222.0,380.5) rotate(-90)" font-family="Liberation Serif" font-size="3.6" fill="#aaa" textLength="9.5" lengthAdjust="spacingAndGlyphs">R3</text>
<text transform="translate(224.8,380.5) rotate(-90)" font-family="Liberation Serif" font-size="3.6" fill="#aaa" textLength="9.5" lengthAdjust="spacingAndGlyphs">50R</text>
<path d="M210.9,370.8 L213.5,372.4 L210.3,373.9 L213.5,375.4 L210.3,376.9 L213.5,378.4 L210.9,380 V392.3" stroke="#444" stroke-width="1.0" fill="none"/>
<text transform="translate(206.6,380.5) rotate(-90)" font-family="Liberation Serif" font-size="3.6" fill="#aaa" textLength="9.5" lengthAdjust="spacingAndGlyphs">R4</text>
<text transform="translate(209.4,380.5) rotate(-90)" font-family="Liberation Serif" font-size="3.6" fill="#aaa" textLength="9.5" lengthAdjust="spacingAndGlyphs">50R</text>
<line x1="210.9" y1="392.3" x2="256.7" y2="392.3" stroke="#555" stroke-width="1"/>
<circle cx="226.3" cy="392.3" r="1.2" fill="#333"/>
<circle cx="241.3" cy="392.3" r="1.2" fill="#333"/>
<circle cx="233.7" cy="392.3" r="1.3" fill="#333"/>
<line x1="233.7" y1="392.3" x2="233.7" y2="400.3" stroke="#555" stroke-width="1"/>
<line x1="230.7" y1="400.3" x2="237" y2="400.3" stroke="#555" stroke-width="1"/>
<line x1="230.7" y1="403.7" x2="237" y2="403.7" stroke="#555" stroke-width="1"/>
<line x1="233.7" y1="403.7" x2="233.7" y2="410" stroke="#555" stroke-width="1"/>
<line x1="228.5" y1="410" x2="239.5" y2="410" stroke="#555" stroke-width="0.9"/>
<line x1="230.2" y1="412.5" x2="237.5" y2="412.5" stroke="#555" stroke-width="0.8"/>
<line x1="231.5" y1="415" x2="236" y2="415" stroke="#555" stroke-width="0.8"/>
<text x="195" y="404.4" font-family="Liberation Serif" font-size="6" fill="#777" font-weight="normal" text-anchor="start" textLength="31" lengthAdjust="spacingAndGlyphs" >1000pF/2KV</text>
<text x="224" y="425.7" font-family="Liberation Serif" font-size="6" fill="#777" font-weight="normal" text-anchor="start" textLength="19.3" lengthAdjust="spacingAndGlyphs" >SHIELD</text>
<text x="82.6" y="455.2" font-family="Liberation Serif" font-size="6.5" fill="#777" font-weight="normal" text-anchor="start" textLength="7.6" lengthAdjust="spacingAndGlyphs" >16</text>
<circle cx="94.8" cy="453" r="2.2" stroke="#555" stroke-width="0.9" fill="#fff"/>
<line x1="97" y1="453" x2="104.2" y2="453" stroke="#555" stroke-width="1"/>
<path d="M104.2,447.5 V459.75 M104.2,447.5 H126.3 V459.75 H104.2" stroke="#555" stroke-width="1" fill="none"/>
<path d="M112.3,447.5 l6.4,-3 v6 z" stroke="#333" stroke-width="0.6" fill="#333"/>
<line x1="112.3" y1="444.3" x2="112.3" y2="450.7" stroke="#333" stroke-width="0.8"/>
<path d="M118.7,459.75 l-6.4,-3 v6 z" stroke="#333" stroke-width="0.6" fill="#333"/>
<line x1="118.7" y1="456.5" x2="118.7" y2="463" stroke="#333" stroke-width="0.8"/>
<circle cx="104.2" cy="453" r="1.2" fill="#333"/>
<circle cx="126.3" cy="453" r="1.2" fill="#333"/>
<path d="M126.3,453 H137.65 V474.1 H97" stroke="#555" stroke-width="1" fill="none"/>
<circle cx="94.8" cy="474.1" r="2.2" stroke="#555" stroke-width="0.9" fill="#fff"/>
<text x="82.6" y="476.3" font-family="Liberation Serif" font-size="6.5" fill="#777" font-weight="normal" text-anchor="start" textLength="7.6" lengthAdjust="spacingAndGlyphs" >15</text>
<text x="106.8" y="441.3" font-family="Liberation Serif" font-size="5.5" fill="#666" font-weight="normal" text-anchor="start" textLength="16.5" lengthAdjust="spacingAndGlyphs" >ORANGE</text>
<text x="107" y="468.3" font-family="Liberation Serif" font-size="5.5" fill="#666" font-weight="normal" text-anchor="start" textLength="15" lengthAdjust="spacingAndGlyphs" >GREEN</text>
<text x="188.75" y="458" font-family="Liberation Serif" font-size="6.5" fill="#777" font-weight="normal" text-anchor="start" textLength="6.5" lengthAdjust="spacingAndGlyphs" >14</text>
<circle cx="199.8" cy="455.8" r="2.2" stroke="#555" stroke-width="0.9" fill="#fff"/>
<path d="M202,455.8 H242.65 V473.5 H202" stroke="#555" stroke-width="1" fill="none"/>
<circle cx="199.8" cy="473.5" r="2.2" stroke="#555" stroke-width="0.9" fill="#fff"/>
<text x="188.75" y="475.7" font-family="Liberation Serif" font-size="6.5" fill="#777" font-weight="normal" text-anchor="start" textLength="6.5" lengthAdjust="spacingAndGlyphs" >13</text>
<path d="M217.9,452.6 L224.1,455.8 L217.9,459 z" stroke="#333" stroke-width="0.6" fill="#333"/>
<line x1="224.1" y1="452.6" x2="224.1" y2="459" stroke="#333" stroke-width="0.8"/>
<text x="213" y="449.6" font-family="Liberation Serif" font-size="5.5" fill="#666" font-weight="normal" text-anchor="start" textLength="17" lengthAdjust="spacingAndGlyphs" >YELLOW</text>
<rect x="280.3" y="443.4" width="43.6" height="43.2" fill="none" stroke="#9fe6b0" stroke-width="0.9"/>
<text x="284.3" y="454.8" font-family="Liberation Sans" font-size="8" font-weight="bold" fill="#38c060" stroke="#38c060" stroke-width="0.45" textLength="20.8" lengthAdjust="spacingAndGlyphs">RoHS</text>
<rect x="287.2" y="456.6" width="2.6" height="1.5" fill="#5aa870"/>
<rect x="290.7" y="456.6" width="2.6" height="1.5" fill="#5aa870"/>
<rect x="294.2" y="456.6" width="2.6" height="1.5" fill="#5aa870"/>
<rect x="297.7" y="456.6" width="2.6" height="1.5" fill="#5aa870"/>
<rect x="301.2" y="456.6" width="2.6" height="1.5" fill="#5aa870"/>
<rect x="304.7" y="456.6" width="2.6" height="1.5" fill="#5aa870"/>
<path d="M284.5,471.8 L290.8,466.5 L296.2,473.8 Q306,462 320.4,451.6 L321.3,452.9 Q308,466 296.5,482.4 Z" stroke="#2ed84a" stroke-width="0.4" fill="#2ed84a"/>
<text x="365.70 370.30 374.90 379.50 384.10 388.70 393.30 397.90 402.50 416.30 420.90 425.50 430.10 434.70 439.30 443.90 448.50 453.10 457.70 462.30 466.90 471.50 485.30 489.90 493.80" y="195.70" font-family="Liberation Serif" font-size="9" fill="#333" text-anchor="middle">lectricalpecifications25°</text>
<text x="361.10 365.70 374.90 379.50 384.10 388.70 402.50 407.10 411.70 416.30 420.90 430.10 439.30 443.90" y="206.76" font-family="Liberation Serif" font-size="9" fill="#333" text-anchor="middle">1.urnsatio(2):</text>
<text x="384.10 397.90 402.50 462.30 476.10 480.70" y="217.82" font-family="Liberation Serif" font-size="9" fill="#333" text-anchor="middle">1:11:1</text>
<text x="361.10 365.70 370.30 374.90 379.50 384.10 388.70 393.30 397.90 402.50 407.10 420.90 425.50 430.10 434.70" y="228.88" font-family="Liberation Serif" font-size="9" fill="#333" text-anchor="middle">2.Insertionoss:</text>
<text x="370.30 374.90 379.50 384.10 388.70 402.50 407.10 411.70 416.30 420.90 425.50 430.10 448.50 453.10" y="239.94" font-family="Liberation Serif" font-size="9" fill="#333" text-anchor="middle">1-100z:-1.0dax</text>
<text x="361.10 365.70 374.90 379.50 384.10 388.70 393.30 407.10 411.70 416.30 420.90 425.50 443.90 448.50 453.10 457.70" y="251.00" font-family="Liberation Serif" font-size="9" fill="#333" text-anchor="middle">3.eturnoss(din):</text>
<text x="370.30 374.90 379.50 384.10 397.90 402.50 407.10 411.70 416.30 443.90 448.50 462.30 466.90 471.50 476.10 480.70" y="262.06" font-family="Liberation Serif" font-size="9" fill="#333" text-anchor="middle">1-10z:-2030z:-16</text>
<text x="370.30 374.90 379.50 384.10 388.70 402.50 407.10 411.70 416.30 420.90 443.90 448.50 453.10 457.70 462.30 466.90 480.70 485.30 489.90 494.50 499.10" y="273.12" font-family="Liberation Serif" font-size="9" fill="#333" text-anchor="middle">60-80z:-1280-100z:-10</text>
<text x="361.10 365.70 374.90 379.50 384.10 388.70 393.30 397.90 402.50 407.10 411.70 416.30 434.70 439.30 443.90 448.50" y="284.18" font-family="Liberation Serif" font-size="9" fill="#333" text-anchor="middle">4.rosstalk(din):</text>
<text x="370.30 374.90 379.50 384.10 397.90 402.50 407.10 411.70 416.30 443.90 448.50 453.10 457.70 462.30 476.10 480.70 485.30 489.90 494.50" y="295.24" font-family="Liberation Serif" font-size="9" fill="#333" text-anchor="middle">1-10z:-4032-65z:-35</text>
<text x="370.30 374.90 379.50 384.10 388.70 393.30 407.10 411.70 416.30 420.90 425.50" y="306.30" font-family="Liberation Serif" font-size="9" fill="#333" text-anchor="middle">65-100z:-30</text>
<text x="361.10 365.70 384.10 388.70 407.10 411.70 416.30 420.90" y="317.36" font-family="Liberation Serif" font-size="9" fill="#333" text-anchor="middle">5.(din):</text>
<text x="370.30 374.90 379.50 384.10 388.70 402.50 407.10 411.70 416.30 420.90 443.90 448.50 453.10 457.70 462.30 466.90 471.50 485.30 489.90 494.50 499.10 503.70" y="328.42" font-family="Liberation Serif" font-size="9" fill="#333" text-anchor="middle">1-125z:-30125-500z:-20</text>
<text x="361.10 365.70 374.90 379.50 388.70 393.30 397.90 402.50 407.10 411.70 416.30 425.50 434.70 448.50 453.10 462.30" y="339.48" font-family="Liberation Serif" font-size="9" fill="#333" text-anchor="middle">6.i-ot:1500rs60z</text>
<text x="361.10 365.70 384.10" y="350.54" font-family="Liberation Serif" font-size="9" fill="#333" text-anchor="middle">7.:</text>
<text x="370.30 374.90 379.50 384.10 402.50 407.10 420.90 425.50 430.10 443.90 448.50 453.10 457.70 462.30 471.50 480.70 489.90 526.70" y="361.60" font-family="Liberation Serif" font-size="9" fill="#333" text-anchor="middle">350uin100z/0.1rs8I</text>
<text x="361.10 365.70 374.90 379.50 384.10 388.70 393.30 397.90 402.50 407.10 420.90 430.10 434.70 439.30 443.90 448.50 453.10 457.70 462.30 466.90 476.10 480.00 499.10 503.70 507.60 517.50" y="372.66" font-family="Liberation Serif" font-size="9" fill="#333" text-anchor="middle">8.peratingeperature:0°70°.</text>
<text x="358.90" y="195.70" font-family="Liberation Serif" font-size="9" fill="#333" textLength="4.40" lengthAdjust="spacingAndGlyphs">E</text>
<text x="409.50" y="195.70" font-family="Liberation Serif" font-size="9" fill="#333" textLength="4.40" lengthAdjust="spacingAndGlyphs">S</text>
<text x="478.50" y="195.70" font-family="Liberation Serif" font-size="9" fill="#333" textLength="4.40" lengthAdjust="spacingAndGlyphs">@</text>
<text x="495.80" y="195.70" font-family="Liberation Serif" font-size="9" fill="#333" textLength="4.40" lengthAdjust="spacingAndGlyphs">C</text>
<text x="368.10" y="206.76" font-family="Liberation Serif" font-size="9" fill="#333" textLength="4.40" lengthAdjust="spacingAndGlyphs">T</text>
<text x="395.70" y="206.76" font-family="Liberation Serif" font-size="9" fill="#333" textLength="4.40" lengthAdjust="spacingAndGlyphs">R</text>
<text x="423.30" y="206.76" font-family="Liberation Serif" font-size="9" fill="#333" textLength="4.40" lengthAdjust="spacingAndGlyphs">±</text>
<text x="432.50" y="206.76" font-family="Liberation Serif" font-size="9" fill="#333" textLength="4.40" lengthAdjust="spacingAndGlyphs">%</text>
<text x="368.10" y="217.82" font-family="Liberation Serif" font-size="9" fill="#333" textLength="4.40" lengthAdjust="spacingAndGlyphs">T</text>
<text x="372.70" y="217.82" font-family="Liberation Serif" font-size="9" fill="#333" textLength="4.40" lengthAdjust="spacingAndGlyphs">X</text>
<text x="377.30" y="217.82" font-family="Liberation Serif" font-size="9" fill="#333" textLength="4.40" lengthAdjust="spacingAndGlyphs">=</text>
<text x="386.50" y="217.82" font-family="Liberation Serif" font-size="9" fill="#333" textLength="4.40" lengthAdjust="spacingAndGlyphs">C</text>
<text x="391.10" y="217.82" font-family="Liberation Serif" font-size="9" fill="#333" textLength="4.40" lengthAdjust="spacingAndGlyphs">T</text>
<text x="446.30" y="217.82" font-family="Liberation Serif" font-size="9" fill="#333" textLength="4.40" lengthAdjust="spacingAndGlyphs">R</text>
<text x="450.90" y="217.82" font-family="Liberation Serif" font-size="9" fill="#333" textLength="4.40" lengthAdjust="spacingAndGlyphs">X</text>
<text x="455.50" y="217.82" font-family="Liberation Serif" font-size="9" fill="#333" textLength="4.40" lengthAdjust="spacingAndGlyphs">=</text>
<text x="464.70" y="217.82" font-family="Liberation Serif" font-size="9" fill="#333" textLength="4.40" lengthAdjust="spacingAndGlyphs">C</text>
<text x="469.30" y="217.82" font-family="Liberation Serif" font-size="9" fill="#333" textLength="4.40" lengthAdjust="spacingAndGlyphs">T</text>
<text x="414.10" y="228.88" font-family="Liberation Serif" font-size="9" fill="#333" textLength="4.40" lengthAdjust="spacingAndGlyphs">L</text>
<text x="391.10" y="239.94" font-family="Liberation Serif" font-size="9" fill="#333" textLength="4.40" lengthAdjust="spacingAndGlyphs">M</text>
<text x="395.70" y="239.94" font-family="Liberation Serif" font-size="9" fill="#333" textLength="4.40" lengthAdjust="spacingAndGlyphs">H</text>
<text x="432.50" y="239.94" font-family="Liberation Serif" font-size="9" fill="#333" textLength="4.40" lengthAdjust="spacingAndGlyphs">B</text>
<text x="441.70" y="239.94" font-family="Liberation Serif" font-size="9" fill="#333" textLength="4.40" lengthAdjust="spacingAndGlyphs">m</text>
<text x="368.10" y="251.00" font-family="Liberation Serif" font-size="9" fill="#333" textLength="4.40" lengthAdjust="spacingAndGlyphs">R</text>
<text x="400.30" y="251.00" font-family="Liberation Serif" font-size="9" fill="#333" textLength="4.40" lengthAdjust="spacingAndGlyphs">L</text>
<text x="427.90" y="251.00" font-family="Liberation Serif" font-size="9" fill="#333" textLength="4.40" lengthAdjust="spacingAndGlyphs">B</text>
<text x="437.10" y="251.00" font-family="Liberation Serif" font-size="9" fill="#333" textLength="4.40" lengthAdjust="spacingAndGlyphs">m</text>
<text x="386.50" y="262.06" font-family="Liberation Serif" font-size="9" fill="#333" textLength="4.40" lengthAdjust="spacingAndGlyphs">M</text>
<text x="391.10" y="262.06" font-family="Liberation Serif" font-size="9" fill="#333" textLength="4.40" lengthAdjust="spacingAndGlyphs">H</text>
<text x="450.90" y="262.06" font-family="Liberation Serif" font-size="9" fill="#333" textLength="4.40" lengthAdjust="spacingAndGlyphs">M</text>
<text x="455.50" y="262.06" font-family="Liberation Serif" font-size="9" fill="#333" textLength="4.40" lengthAdjust="spacingAndGlyphs">H</text>
<text x="391.10" y="273.12" font-family="Liberation Serif" font-size="9" fill="#333" textLength="4.40" lengthAdjust="spacingAndGlyphs">M</text>
<text x="395.70" y="273.12" font-family="Liberation Serif" font-size="9" fill="#333" textLength="4.40" lengthAdjust="spacingAndGlyphs">H</text>
<text x="469.30" y="273.12" font-family="Liberation Serif" font-size="9" fill="#333" textLength="4.40" lengthAdjust="spacingAndGlyphs">M</text>
<text x="473.90" y="273.12" font-family="Liberation Serif" font-size="9" fill="#333" textLength="4.40" lengthAdjust="spacingAndGlyphs">H</text>
<text x="368.10" y="284.18" font-family="Liberation Serif" font-size="9" fill="#333" textLength="4.40" lengthAdjust="spacingAndGlyphs">C</text>
<text x="418.70" y="284.18" font-family="Liberation Serif" font-size="9" fill="#333" textLength="4.40" lengthAdjust="spacingAndGlyphs">B</text>
<text x="427.90" y="284.18" font-family="Liberation Serif" font-size="9" fill="#333" textLength="4.40" lengthAdjust="spacingAndGlyphs">m</text>
<text x="386.50" y="295.24" font-family="Liberation Serif" font-size="9" fill="#333" textLength="4.40" lengthAdjust="spacingAndGlyphs">M</text>
<text x="391.10" y="295.24" font-family="Liberation Serif" font-size="9" fill="#333" textLength="4.40" lengthAdjust="spacingAndGlyphs">H</text>
<text x="464.70" y="295.24" font-family="Liberation Serif" font-size="9" fill="#333" textLength="4.40" lengthAdjust="spacingAndGlyphs">M</text>
<text x="469.30" y="295.24" font-family="Liberation Serif" font-size="9" fill="#333" textLength="4.40" lengthAdjust="spacingAndGlyphs">H</text>
<text x="395.70" y="306.30" font-family="Liberation Serif" font-size="9" fill="#333" textLength="4.40" lengthAdjust="spacingAndGlyphs">M</text>
<text x="400.30" y="306.30" font-family="Liberation Serif" font-size="9" fill="#333" textLength="4.40" lengthAdjust="spacingAndGlyphs">H</text>
<text x="368.10" y="317.36" font-family="Liberation Serif" font-size="9" fill="#333" textLength="4.40" lengthAdjust="spacingAndGlyphs">C</text>
<text x="372.70" y="317.36" font-family="Liberation Serif" font-size="9" fill="#333" textLength="4.40" lengthAdjust="spacingAndGlyphs">M</text>
<text x="377.30" y="317.36" font-family="Liberation Serif" font-size="9" fill="#333" textLength="4.40" lengthAdjust="spacingAndGlyphs">R</text>
<text x="391.10" y="317.36" font-family="Liberation Serif" font-size="9" fill="#333" textLength="4.40" lengthAdjust="spacingAndGlyphs">B</text>
<text x="400.30" y="317.36" font-family="Liberation Serif" font-size="9" fill="#333" textLength="4.40" lengthAdjust="spacingAndGlyphs">m</text>
<text x="391.10" y="328.42" font-family="Liberation Serif" font-size="9" fill="#333" textLength="4.40" lengthAdjust="spacingAndGlyphs">M</text>
<text x="395.70" y="328.42" font-family="Liberation Serif" font-size="9" fill="#333" textLength="4.40" lengthAdjust="spacingAndGlyphs">H</text>
<text x="473.90" y="328.42" font-family="Liberation Serif" font-size="9" fill="#333" textLength="4.40" lengthAdjust="spacingAndGlyphs">M</text>
<text x="478.50" y="328.42" font-family="Liberation Serif" font-size="9" fill="#333" textLength="4.40" lengthAdjust="spacingAndGlyphs">H</text>
<text x="368.10" y="339.48" font-family="Liberation Serif" font-size="9" fill="#333" textLength="4.40" lengthAdjust="spacingAndGlyphs">H</text>
<text x="381.90" y="339.48" font-family="Liberation Serif" font-size="9" fill="#333" textLength="4.40" lengthAdjust="spacingAndGlyphs">P</text>
<text x="418.70" y="339.48" font-family="Liberation Serif" font-size="9" fill="#333" textLength="4.40" lengthAdjust="spacingAndGlyphs">V</text>
<text x="427.90" y="339.48" font-family="Liberation Serif" font-size="9" fill="#333" textLength="4.40" lengthAdjust="spacingAndGlyphs">m</text>
<text x="441.70" y="339.48" font-family="Liberation Serif" font-size="9" fill="#333" textLength="4.40" lengthAdjust="spacingAndGlyphs">@</text>
<text x="455.50" y="339.48" font-family="Liberation Serif" font-size="9" fill="#333" textLength="4.40" lengthAdjust="spacingAndGlyphs">H</text>
<text x="368.10" y="350.54" font-family="Liberation Serif" font-size="9" fill="#333" textLength="4.40" lengthAdjust="spacingAndGlyphs">O</text>
<text x="372.70" y="350.54" font-family="Liberation Serif" font-size="9" fill="#333" textLength="4.40" lengthAdjust="spacingAndGlyphs">C</text>
<text x="377.30" y="350.54" font-family="Liberation Serif" font-size="9" fill="#333" textLength="4.40" lengthAdjust="spacingAndGlyphs">L</text>
<text x="386.50" y="361.60" font-family="Liberation Serif" font-size="9" fill="#333" textLength="4.40" lengthAdjust="spacingAndGlyphs">H</text>
<text x="395.70" y="361.60" font-family="Liberation Serif" font-size="9" fill="#333" textLength="4.40" lengthAdjust="spacingAndGlyphs">m</text>
<text x="414.10" y="361.60" font-family="Liberation Serif" font-size="9" fill="#333" textLength="4.40" lengthAdjust="spacingAndGlyphs">@</text>
<text x="432.50" y="361.60" font-family="Liberation Serif" font-size="9" fill="#333" textLength="4.40" lengthAdjust="spacingAndGlyphs">K</text>
<text x="437.10" y="361.60" font-family="Liberation Serif" font-size="9" fill="#333" textLength="4.40" lengthAdjust="spacingAndGlyphs">H</text>
<text x="464.70" y="361.60" font-family="Liberation Serif" font-size="9" fill="#333" textLength="4.40" lengthAdjust="spacingAndGlyphs">V</text>
<text x="473.90" y="361.60" font-family="Liberation Serif" font-size="9" fill="#333" textLength="4.40" lengthAdjust="spacingAndGlyphs">m</text>
<text x="492.30" y="361.60" font-family="Liberation Serif" font-size="9" fill="#333" textLength="4.40" lengthAdjust="spacingAndGlyphs">m</text>
<text x="496.90" y="361.60" font-family="Liberation Serif" font-size="9" fill="#333" textLength="4.40" lengthAdjust="spacingAndGlyphs">A</text>
<text x="506.10" y="361.60" font-family="Liberation Serif" font-size="9" fill="#333" textLength="4.40" lengthAdjust="spacingAndGlyphs">D</text>
<text x="510.70" y="361.60" font-family="Liberation Serif" font-size="9" fill="#333" textLength="4.40" lengthAdjust="spacingAndGlyphs">C</text>
<text x="519.90" y="361.60" font-family="Liberation Serif" font-size="9" fill="#333" textLength="4.40" lengthAdjust="spacingAndGlyphs">B</text>
<text x="529.10" y="361.60" font-family="Liberation Serif" font-size="9" fill="#333" textLength="4.40" lengthAdjust="spacingAndGlyphs">A</text>
<text x="533.70" y="361.60" font-family="Liberation Serif" font-size="9" fill="#333" textLength="4.40" lengthAdjust="spacingAndGlyphs">S</text>
<text x="368.10" y="372.66" font-family="Liberation Serif" font-size="9" fill="#333" textLength="4.40" lengthAdjust="spacingAndGlyphs">O</text>
<text x="414.10" y="372.66" font-family="Liberation Serif" font-size="9" fill="#333" textLength="4.40" lengthAdjust="spacingAndGlyphs">T</text>
<text x="423.30" y="372.66" font-family="Liberation Serif" font-size="9" fill="#333" textLength="4.40" lengthAdjust="spacingAndGlyphs">m</text>
<text x="482.00" y="372.66" font-family="Liberation Serif" font-size="9" fill="#333" textLength="4.40" lengthAdjust="spacingAndGlyphs">C</text>
<text x="488.20" y="372.66" font-family="Liberation Serif" font-size="9" fill="#333" textLength="8.00" lengthAdjust="spacingAndGlyphs">~</text>
<text x="509.60" y="372.66" font-family="Liberation Serif" font-size="9" fill="#333" textLength="4.40" lengthAdjust="spacingAndGlyphs">C</text>
<line x1="354.2" y1="442.4" x2="599" y2="442.4" stroke="#333" stroke-width="1"/>
<line x1="354.2" y1="442.4" x2="354.2" y2="508.5" stroke="#444" stroke-width="1"/>
<line x1="354.2" y1="456.2" x2="463" y2="456.2" stroke="#888" stroke-width="1.8"/>
<line x1="354.2" y1="469.5" x2="463" y2="469.5" stroke="#444" stroke-width="1"/>
<line x1="354.2" y1="483.2" x2="463" y2="483.2" stroke="#444" stroke-width="1"/>
<line x1="354.2" y1="496.6" x2="599" y2="496.6" stroke="#444" stroke-width="1"/>
<line x1="408.5" y1="442.4" x2="408.5" y2="496.6" stroke="#444" stroke-width="1"/>
<line x1="463.1" y1="442.4" x2="463.1" y2="496.6" stroke="#666" stroke-width="1.6"/>
<line x1="463" y1="465.6" x2="599" y2="465.6" stroke="#444" stroke-width="1"/>
<line x1="463" y1="483.1" x2="599" y2="483.1" stroke="#444" stroke-width="1"/>
<line x1="395.7" y1="496.6" x2="395.7" y2="508.5" stroke="#444" stroke-width="1"/>
<line x1="437.4" y1="496.6" x2="437.4" y2="508.5" stroke="#444" stroke-width="1"/>
<line x1="479.2" y1="496.6" x2="479.2" y2="508.5" stroke="#444" stroke-width="1"/>
<line x1="512.1" y1="496.6" x2="512.1" y2="508.5" stroke="#444" stroke-width="1"/>
<text x="357" y="451.6" font-family="Liberation Serif" font-size="6" fill="#777" font-weight="normal" text-anchor="start" textLength="8" lengthAdjust="spacingAndGlyphs" >X.X</text>
<text x="391.88 395.12 398.38 401.62" y="451.60" font-family="Liberation Serif" font-size="6.5" font-weight="normal" fill="#666" text-anchor="middle">0.20</text>
<text x="386.93" y="451.60" font-family="Liberation Serif" font-size="6.5" font-weight="normal" fill="#666" textLength="3.40" lengthAdjust="spacingAndGlyphs">±</text>
<text x="357" y="465" font-family="Liberation Serif" font-size="6" fill="#777" font-weight="normal" text-anchor="start" textLength="10" lengthAdjust="spacingAndGlyphs" >X.XX</text>
<text x="391.88 395.12 398.38 401.62" y="465.00" font-family="Liberation Serif" font-size="6.5" font-weight="normal" fill="#666" text-anchor="middle">0.10</text>
<text x="386.93" y="465.00" font-family="Liberation Serif" font-size="6.5" font-weight="normal" fill="#666" textLength="3.40" lengthAdjust="spacingAndGlyphs">±</text>
<text x="357" y="478.6" font-family="Liberation Serif" font-size="6" fill="#777" font-weight="normal" text-anchor="start" textLength="12.5" lengthAdjust="spacingAndGlyphs" >X.XXX</text>
<text x="391.88 395.12 398.38 401.62" y="478.60" font-family="Liberation Serif" font-size="6.5" font-weight="normal" fill="#666" text-anchor="middle">0.05</text>
<text x="386.93" y="478.60" font-family="Liberation Serif" font-size="6.5" font-weight="normal" fill="#666" textLength="3.40" lengthAdjust="spacingAndGlyphs">±</text>
<text x="357" y="492.2" font-family="Liberation Serif" font-size="6" fill="#777" font-weight="normal" text-anchor="start" textLength="14" lengthAdjust="spacingAndGlyphs" >ANGLES</text>
<text x="391.88 395.12" y="492.20" font-family="Liberation Serif" font-size="6.5" font-weight="normal" fill="#666" text-anchor="middle">1°</text>
<text x="386.93" y="492.20" font-family="Liberation Serif" font-size="6.5" font-weight="normal" fill="#666" textLength="3.40" lengthAdjust="spacingAndGlyphs">±</text>
<text x="411.5" y="451.6" font-family="Liberation Serif" font-size="5.8" fill="#777" font-weight="normal" text-anchor="start" textLength="12" lengthAdjust="spacingAndGlyphs" >APPD:</text>
<text x="411.2" y="465.1" font-family="Liberation Serif" font-size="5.8" fill="#777" font-weight="normal" text-anchor="start" textLength="12.3" lengthAdjust="spacingAndGlyphs" >CHKD:</text>
<text x="411.2" y="479" font-family="Liberation Serif" font-size="5.8" fill="#777" font-weight="normal" text-anchor="start" textLength="7.5" lengthAdjust="spacingAndGlyphs" >DR:</text>
<text x="430" y="479" font-family="Liberation Serif" font-size="6.5" fill="#777" font-weight="normal" text-anchor="start" textLength="9" lengthAdjust="spacingAndGlyphs" >TOM</text>
<text x="411.2" y="492.2" font-family="Liberation Serif" font-size="5.8" fill="#777" font-weight="normal" text-anchor="start" textLength="12" lengthAdjust="spacingAndGlyphs" >UNIT:</text>
<text x="432" y="492.2" font-family="Liberation Serif" font-size="5.5" fill="#555" font-weight="normal" text-anchor="start" textLength="6" lengthAdjust="spacingAndGlyphs" >mm</text>
<text x="471.71 482.13 496.02 506.44 562.01 565.48 575.90 582.84" y="457.50" font-family="Liberation Serif" font-size="7.5" font-weight="normal" fill="#555" text-anchor="middle">I-I&#39;.,II</text>
<text x="466.53" y="457.50" font-family="Liberation Serif" font-size="7.5" font-weight="normal" fill="#555" textLength="3.40" lengthAdjust="spacingAndGlyphs">L</text>
<text x="473.48" y="457.50" font-family="Liberation Serif" font-size="7.5" font-weight="normal" fill="#555" textLength="3.40" lengthAdjust="spacingAndGlyphs">N</text>
<text x="476.95" y="457.50" font-family="Liberation Serif" font-size="7.5" font-weight="normal" fill="#555" textLength="3.40" lengthAdjust="spacingAndGlyphs">K</text>
<text x="483.90" y="457.50" font-family="Liberation Serif" font-size="7.5" font-weight="normal" fill="#555" textLength="3.40" lengthAdjust="spacingAndGlyphs">P</text>
<text x="487.37" y="457.50" font-family="Liberation Serif" font-size="7.5" font-weight="normal" fill="#555" textLength="3.40" lengthAdjust="spacingAndGlyphs">P</text>
<text x="497.79" y="457.50" font-family="Liberation Serif" font-size="7.5" font-weight="normal" fill="#555" textLength="3.40" lengthAdjust="spacingAndGlyphs">N</text>
<text x="501.26" y="457.50" font-family="Liberation Serif" font-size="7.5" font-weight="normal" fill="#555" textLength="3.40" lengthAdjust="spacingAndGlyphs">T</text>
<text x="508.21" y="457.50" font-family="Liberation Serif" font-size="7.5" font-weight="normal" fill="#555" textLength="3.40" lengthAdjust="spacingAndGlyphs">L</text>
<text x="515.16" y="457.50" font-family="Liberation Serif" font-size="7.5" font-weight="normal" fill="#555" textLength="3.40" lengthAdjust="spacingAndGlyphs">T</text>
<text x="518.63" y="457.50" font-family="Liberation Serif" font-size="7.5" font-weight="normal" fill="#555" textLength="3.40" lengthAdjust="spacingAndGlyphs">E</text>
<text x="522.10" y="457.50" font-family="Liberation Serif" font-size="7.5" font-weight="normal" fill="#555" textLength="3.40" lengthAdjust="spacingAndGlyphs">C</text>
<text x="525.58" y="457.50" font-family="Liberation Serif" font-size="7.5" font-weight="normal" fill="#555" textLength="3.40" lengthAdjust="spacingAndGlyphs">H</text>
<text x="529.05" y="457.50" font-family="Liberation Serif" font-size="7.5" font-weight="normal" fill="#555" textLength="3.40" lengthAdjust="spacingAndGlyphs">N</text>
<text x="532.52" y="457.50" font-family="Liberation Serif" font-size="7.5" font-weight="normal" fill="#555" textLength="3.40" lengthAdjust="spacingAndGlyphs">O</text>
<text x="535.99" y="457.50" font-family="Liberation Serif" font-size="7.5" font-weight="normal" fill="#555" textLength="3.40" lengthAdjust="spacingAndGlyphs">L</text>
<text x="539.47" y="457.50" font-family="Liberation Serif" font-size="7.5" font-weight="normal" fill="#555" textLength="3.40" lengthAdjust="spacingAndGlyphs">O</text>
<text x="542.94" y="457.50" font-family="Liberation Serif" font-size="7.5" font-weight="normal" fill="#555" textLength="3.40" lengthAdjust="spacingAndGlyphs">G</text>
<text x="546.41" y="457.50" font-family="Liberation Serif" font-size="7.5" font-weight="normal" fill="#555" textLength="3.40" lengthAdjust="spacingAndGlyphs">Y</text>
<text x="553.36" y="457.50" font-family="Liberation Serif" font-size="7.5" font-weight="normal" fill="#555" textLength="3.40" lengthAdjust="spacingAndGlyphs">C</text>
<text x="556.83" y="457.50" font-family="Liberation Serif" font-size="7.5" font-weight="normal" fill="#555" textLength="3.40" lengthAdjust="spacingAndGlyphs">O</text>
<text x="570.72" y="457.50" font-family="Liberation Serif" font-size="7.5" font-weight="normal" fill="#555" textLength="3.40" lengthAdjust="spacingAndGlyphs">L</text>
<text x="577.67" y="457.50" font-family="Liberation Serif" font-size="7.5" font-weight="normal" fill="#555" textLength="3.40" lengthAdjust="spacingAndGlyphs">M</text>
<text x="584.62" y="457.50" font-family="Liberation Serif" font-size="7.5" font-weight="normal" fill="#555" textLength="3.40" lengthAdjust="spacingAndGlyphs">T</text>
<text x="588.09" y="457.50" font-family="Liberation Serif" font-size="7.5" font-weight="normal" fill="#555" textLength="3.40" lengthAdjust="spacingAndGlyphs">E</text>
<text x="591.56" y="457.50" font-family="Liberation Serif" font-size="7.5" font-weight="normal" fill="#555" textLength="3.40" lengthAdjust="spacingAndGlyphs">D</text>
<text x="473.38 477.29 481.21 485.12 489.04" y="474.60" font-family="Liberation Serif" font-size="7.5" font-weight="normal" fill="#666" text-anchor="middle">itle:</text>
<text x="467.54" y="474.60" font-family="Liberation Serif" font-size="7.5" font-weight="normal" fill="#666" textLength="3.84" lengthAdjust="spacingAndGlyphs">T</text>
<text x="502.34 525.46 528.35 531.24 537.02 545.70 548.59 574.60 577.49 580.38 583.27" y="472.60" font-family="Liberation Serif" font-size="5.8" font-weight="normal" fill="#666" text-anchor="middle">Jectritase-</text>
<text x="498.03" y="472.60" font-family="Liberation Serif" font-size="5.8" font-weight="normal" fill="#666" textLength="2.83" lengthAdjust="spacingAndGlyphs">R</text>
<text x="503.81" y="472.60" font-family="Liberation Serif" font-size="5.8" font-weight="normal" fill="#666" textLength="2.83" lengthAdjust="spacingAndGlyphs">4</text>
<text x="506.70" y="472.60" font-family="Liberation Serif" font-size="5.8" font-weight="normal" fill="#666" textLength="2.83" lengthAdjust="spacingAndGlyphs">5</text>
<text x="512.48" y="472.60" font-family="Liberation Serif" font-size="5.8" font-weight="normal" fill="#666" textLength="2.83" lengthAdjust="spacingAndGlyphs">C</text>
<text x="515.37" y="472.60" font-family="Liberation Serif" font-size="5.8" font-weight="normal" fill="#666" textLength="2.83" lengthAdjust="spacingAndGlyphs">o</text>
<text x="518.26" y="472.60" font-family="Liberation Serif" font-size="5.8" font-weight="normal" fill="#666" textLength="2.83" lengthAdjust="spacingAndGlyphs">n</text>
<text x="521.15" y="472.60" font-family="Liberation Serif" font-size="5.8" font-weight="normal" fill="#666" textLength="2.83" lengthAdjust="spacingAndGlyphs">n</text>
<text x="532.72" y="472.60" font-family="Liberation Serif" font-size="5.8" font-weight="normal" fill="#666" textLength="2.83" lengthAdjust="spacingAndGlyphs">o</text>
<text x="541.39" y="472.60" font-family="Liberation Serif" font-size="5.8" font-weight="normal" fill="#666" textLength="2.83" lengthAdjust="spacingAndGlyphs">w</text>
<text x="550.06" y="472.60" font-family="Liberation Serif" font-size="5.8" font-weight="normal" fill="#666" textLength="2.83" lengthAdjust="spacingAndGlyphs">h</text>
<text x="555.84" y="472.60" font-family="Liberation Serif" font-size="5.8" font-weight="normal" fill="#666" textLength="2.83" lengthAdjust="spacingAndGlyphs">1</text>
<text x="558.73" y="472.60" font-family="Liberation Serif" font-size="5.8" font-weight="normal" fill="#666" textLength="2.83" lengthAdjust="spacingAndGlyphs">0</text>
<text x="561.62" y="472.60" font-family="Liberation Serif" font-size="5.8" font-weight="normal" fill="#666" textLength="2.83" lengthAdjust="spacingAndGlyphs">0</text>
<text x="564.51" y="472.60" font-family="Liberation Serif" font-size="5.8" font-weight="normal" fill="#666" textLength="2.83" lengthAdjust="spacingAndGlyphs">0</text>
<text x="570.29" y="472.60" font-family="Liberation Serif" font-size="5.8" font-weight="normal" fill="#666" textLength="2.83" lengthAdjust="spacingAndGlyphs">B</text>
<text x="584.75" y="472.60" font-family="Liberation Serif" font-size="5.8" font-weight="normal" fill="#666" textLength="2.83" lengthAdjust="spacingAndGlyphs">T</text>
<text x="587.64" y="472.60" font-family="Liberation Serif" font-size="5.8" font-weight="normal" fill="#666" textLength="2.83" lengthAdjust="spacingAndGlyphs">X</text>
<text x="499.45 505.23 508.12 513.90 516.79 519.68 522.57 534.13 542.80 545.70 548.59 551.48" y="480.20" font-family="Liberation Serif" font-size="5.8" font-weight="normal" fill="#666" text-anchor="middle">Iterateaetic</text>
<text x="500.92" y="480.20" font-family="Liberation Serif" font-size="5.8" font-weight="normal" fill="#666" textLength="2.83" lengthAdjust="spacingAndGlyphs">n</text>
<text x="509.59" y="480.20" font-family="Liberation Serif" font-size="5.8" font-weight="normal" fill="#666" textLength="2.83" lengthAdjust="spacingAndGlyphs">g</text>
<text x="524.04" y="480.20" font-family="Liberation Serif" font-size="5.8" font-weight="normal" fill="#666" textLength="2.83" lengthAdjust="spacingAndGlyphs">d</text>
<text x="529.83" y="480.20" font-family="Liberation Serif" font-size="5.8" font-weight="normal" fill="#666" textLength="2.83" lengthAdjust="spacingAndGlyphs">M</text>
<text x="535.61" y="480.20" font-family="Liberation Serif" font-size="5.8" font-weight="normal" fill="#666" textLength="2.83" lengthAdjust="spacingAndGlyphs">g</text>
<text x="538.50" y="480.20" font-family="Liberation Serif" font-size="5.8" font-weight="normal" fill="#666" textLength="2.83" lengthAdjust="spacingAndGlyphs">n</text>
<text x="469" y="489.6" font-family="Liberation Serif" font-size="5.3" fill="#666" font-weight="normal" text-anchor="start" textLength="22.5" lengthAdjust="spacingAndGlyphs" >PART NO.:</text>
<text x="515.19" y="493.20" font-family="Liberation Serif" font-size="8.5" font-weight="normal" fill="#555" text-anchor="middle">J</text>
<text x="505.54" y="493.20" font-family="Liberation Serif" font-size="8.5" font-weight="normal" fill="#555" textLength="3.80" lengthAdjust="spacingAndGlyphs">L</text>
<text x="509.41" y="493.20" font-family="Liberation Serif" font-size="8.5" font-weight="normal" fill="#555" textLength="3.80" lengthAdjust="spacingAndGlyphs">P</text>
<text x="517.16" y="493.20" font-family="Liberation Serif" font-size="8.5" font-weight="normal" fill="#555" textLength="3.80" lengthAdjust="spacingAndGlyphs">K</text>
<text x="521.04" y="493.20" font-family="Liberation Serif" font-size="8.5" font-weight="normal" fill="#555" textLength="3.80" lengthAdjust="spacingAndGlyphs">0</text>
<text x="524.91" y="493.20" font-family="Liberation Serif" font-size="8.5" font-weight="normal" fill="#555" textLength="3.80" lengthAdjust="spacingAndGlyphs">0</text>
<text x="528.79" y="493.20" font-family="Liberation Serif" font-size="8.5" font-weight="normal" fill="#555" textLength="3.80" lengthAdjust="spacingAndGlyphs">7</text>
<text x="532.66" y="493.20" font-family="Liberation Serif" font-size="8.5" font-weight="normal" fill="#555" textLength="3.80" lengthAdjust="spacingAndGlyphs">1</text>
<text x="536.54" y="493.20" font-family="Liberation Serif" font-size="8.5" font-weight="normal" fill="#555" textLength="3.80" lengthAdjust="spacingAndGlyphs">A</text>
<text x="540.41" y="493.20" font-family="Liberation Serif" font-size="8.5" font-weight="normal" fill="#555" textLength="3.80" lengthAdjust="spacingAndGlyphs">0</text>
<text x="544.29" y="493.20" font-family="Liberation Serif" font-size="8.5" font-weight="normal" fill="#555" textLength="3.80" lengthAdjust="spacingAndGlyphs">N</text>
<text x="548.16" y="493.20" font-family="Liberation Serif" font-size="8.5" font-weight="normal" fill="#555" textLength="3.80" lengthAdjust="spacingAndGlyphs">L</text>
<text x="397" y="503" font-family="Liberation Serif" font-size="4.8" fill="#888" font-weight="normal" text-anchor="start" textLength="14" lengthAdjust="spacingAndGlyphs" >SCALE:</text>
<text x="420" y="507.3" font-family="Liberation Serif" font-size="6" fill="#777" font-weight="normal" text-anchor="start" textLength="8.7" lengthAdjust="spacingAndGlyphs" >2/1</text>
<text x="438.5" y="503" font-family="Liberation Serif" font-size="4.8" fill="#888" font-weight="normal" text-anchor="start" textLength="15.5" lengthAdjust="spacingAndGlyphs" >SHEET:</text>
<text x="460.8" y="507.3" font-family="Liberation Serif" font-size="6" fill="#777" font-weight="normal" text-anchor="start" textLength="10" lengthAdjust="spacingAndGlyphs" >2/2</text>
<text x="481" y="502.3" font-family="Liberation Serif" font-size="4.8" fill="#888" font-weight="normal" text-anchor="start" textLength="9" lengthAdjust="spacingAndGlyphs" >REV:</text>
<text x="497" y="507.3" font-family="Liberation Serif" font-size="6" fill="#777" font-weight="normal" text-anchor="start" textLength="3.5" lengthAdjust="spacingAndGlyphs" >A</text>
<text x="514" y="502.3" font-family="Liberation Serif" font-size="4.8" fill="#888" font-weight="normal" text-anchor="start" textLength="21" lengthAdjust="spacingAndGlyphs" >DWG NO.:</text>
<text x="541.7" y="505.3" font-family="Liberation Serif" font-size="6" fill="#777" font-weight="normal" text-anchor="start" textLength="30.2" lengthAdjust="spacingAndGlyphs" >LPDS110601</text>
<circle cx="364.9" cy="503.25" r="4.5" stroke="#555" stroke-width="0.9" fill="none"/>
<circle cx="364.9" cy="503.25" r="2.3" stroke="#555" stroke-width="0.9" fill="none"/>
<line x1="359.5" y1="503.25" x2="370.3" y2="503.25" stroke="#555" stroke-width="0.8"/>
<line x1="364.9" y1="498" x2="364.9" y2="508.5" stroke="#555" stroke-width="0.8"/>
<path d="M372.4,501 L388.7,499.5 V507.5 L372.4,505.5 Z" stroke="#555" stroke-width="0.9" fill="none"/>
<line x1="371" y1="503.25" x2="390" y2="503.25" stroke="#555" stroke-width="0.8"/>
</svg></body></html>
